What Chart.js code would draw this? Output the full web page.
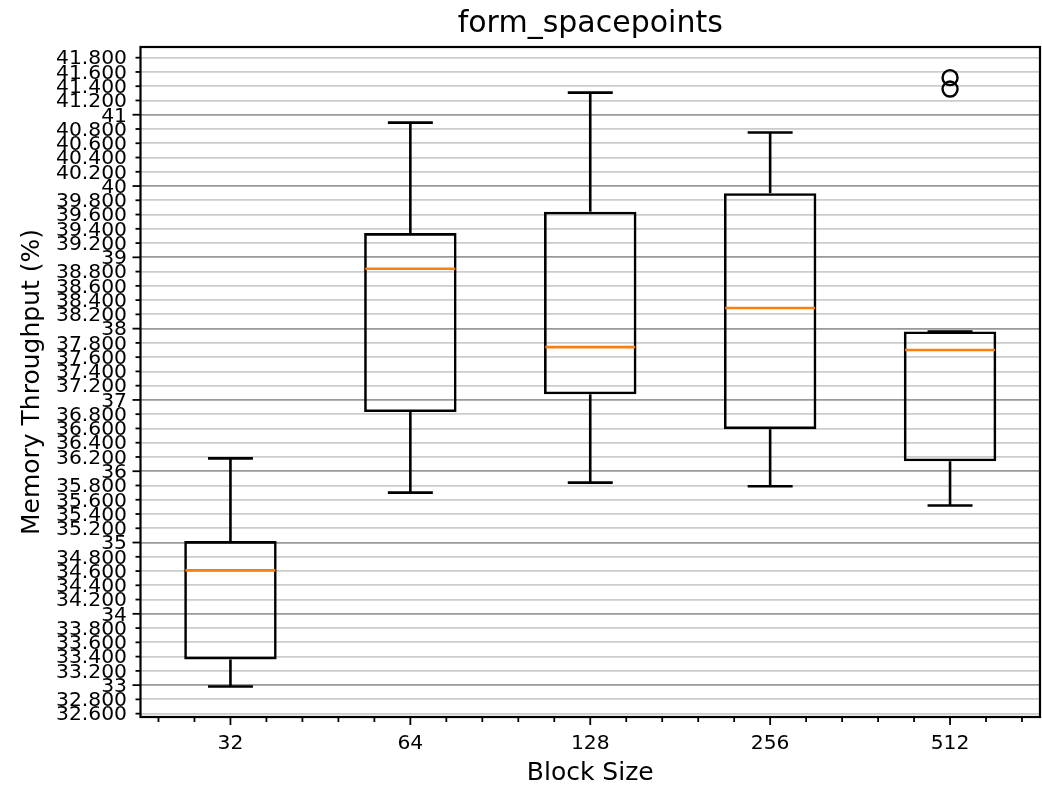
<!DOCTYPE html>
<html><head><meta charset="utf-8">
<script src="https://cdn.jsdelivr.net/npm/chart.js@4.4.1/dist/chart.umd.min.js"></script>
<style>html,body{margin:0;padding:0;background:#fff;} canvas{display:block;}</style>
</head><body>
<canvas id="c" width="1042" height="788"></canvas>
<script>
// ---- data ----
const blockSizes = ['32', '64', '128', '256', '512'];
const positions = [1, 2, 3, 4, 5];
const whiskerLow  = [32.98, 35.70, 35.84, 35.79, 35.52];
const q1          = [33.36, 36.83, 37.08, 36.59, 36.14];
const median      = [34.61, 38.84, 37.74, 38.29, 37.70];
const q3          = [35.02, 39.34, 39.64, 39.90, 37.96];
const whiskerHigh = [36.18, 40.89, 41.31, 40.75, 37.96];
const outlierPos  = [5, 5];
const outlierVal  = [41.52, 41.36];

// ---- ticks ----
const yTicks = [];
for (let v = 326; v <= 418; v += 2) yTicks.push(v / 10);
const xMinorTicks = [];
for (let v = 6; v <= 54; v += 2) if (v % 10 !== 0) xMinorTicks.push(v / 10);

const FONT = 'DejaVu Sans';
const BOX_HALF = 0.25, CAP_HALF = 0.125;
const LW = 2.6;
const isMajor = v => Math.abs(v - Math.round(v)) < 1e-6;

Chart.defaults.color = '#000';
Chart.defaults.font.family = FONT;

const partsPlugin = {
  id: 'boxParts',
  afterDatasetsDraw(chart) {
    const {ctx, scales: {x, y}} = chart;
    ctx.save();
    ctx.lineCap = 'butt';
    const line = (x1, y1, x2, y2) => { ctx.beginPath(); ctx.moveTo(x1, y1); ctx.lineTo(x2, y2); ctx.stroke(); };
    positions.forEach((p, i) => {
      const cx = x.getPixelForValue(p);
      ctx.strokeStyle = '#000'; ctx.lineWidth = LW;
      line(cx, y.getPixelForValue(q1[i]), cx, y.getPixelForValue(whiskerLow[i]));
      line(cx, y.getPixelForValue(q3[i]), cx, y.getPixelForValue(whiskerHigh[i]));
      const cl = x.getPixelForValue(p - CAP_HALF), cr = x.getPixelForValue(p + CAP_HALF);
      line(cl, y.getPixelForValue(whiskerLow[i]), cr, y.getPixelForValue(whiskerLow[i]));
      line(cl, y.getPixelForValue(whiskerHigh[i]), cr, y.getPixelForValue(whiskerHigh[i]));
      ctx.strokeStyle = '#ff7f0e';
      const bl = x.getPixelForValue(p - BOX_HALF), br = x.getPixelForValue(p + BOX_HALF);
      line(bl, y.getPixelForValue(median[i]), br, y.getPixelForValue(median[i]));
    });
    ctx.restore();
  },
  afterDraw(chart) {
    const {ctx, chartArea: a, scales: {x, y}} = chart;
    ctx.save();
    ctx.strokeStyle = '#000';
    ctx.lineWidth = 1.8;
    yTicks.forEach(v => {
      const py = y.getPixelForValue(v);
      const len = isMajor(v) ? 8 : 5;
      ctx.beginPath(); ctx.moveTo(a.left - len, py); ctx.lineTo(a.left, py); ctx.stroke();
    });
    positions.forEach(v => {
      const px = x.getPixelForValue(v);
      ctx.beginPath(); ctx.moveTo(px, a.bottom); ctx.lineTo(px, a.bottom + 8); ctx.stroke();
    });
    xMinorTicks.forEach(v => {
      const px = x.getPixelForValue(v);
      ctx.beginPath(); ctx.moveTo(px, a.bottom); ctx.lineTo(px, a.bottom + 5); ctx.stroke();
    });
    ctx.lineWidth = 2.2;
    ctx.strokeRect(a.left, a.top, a.right - a.left, a.bottom - a.top);
    ctx.restore();
  }
};

new Chart(document.getElementById('c'), {
  type: 'bar',
  data: {
    datasets: [
      {
        type: 'bar',
        data: positions.map((p, i) => ({x: p, y: [q1[i], q3[i]]})),
        backgroundColor: 'rgba(0,0,0,0)',
        borderColor: '#000',
        borderWidth: LW,
        borderSkipped: false,
        barPercentage: 0.514,
        categoryPercentage: 1
      },
      {
        type: 'scatter',
        data: outlierPos.map((p, i) => ({x: p, y: outlierVal[i]})),
        pointStyle: 'circle',
        pointRadius: 7.5,
        pointBorderWidth: 2.4,
        pointBorderColor: '#000',
        pointBackgroundColor: 'rgba(0,0,0,0)'
      }
    ]
  },
  options: {
    responsive: false,
    animation: false,
    layout: {autoPadding: false, padding: {left: 0, right: 2, top: 0, bottom: 0}},
    plugins: {
      legend: {display: false},
      tooltip: {enabled: false},
      title: {
        display: true, fullSize: false, text: 'form_spacepoints', color: '#000',
        font: {family: FONT, size: 30, weight: 'normal', lineHeight: 1.2},
        padding: {top: 6, bottom: 5}
      }
    },
    scales: {
      x: {
        type: 'linear', min: 0.5, max: 5.5, offset: false,
        grid: {display: false},
        border: {display: false},
        afterBuildTicks: s => { s.ticks = positions.map(v => ({value: v})); },
        afterFit: s => { s.height = 71; },
        ticks: {
          autoSkip: false, maxRotation: 0, padding: 7,
          font: {family: FONT, size: 20.3},
          callback: v => blockSizes[positions.indexOf(v)]
        },
        title: {display: true, text: 'Block Size', color: '#000',
          font: {family: FONT, size: 25, lineHeight: 1.2}, padding: {top: 0, bottom: 0}}
      },
      y: {
        type: 'linear', min: 32.553, max: 41.95, beginAtZero: false,
        grid: {
          drawTicks: false,
          color: c => (c.tick && isMajor(c.tick.value)) ? '#999999' : '#cccccc',
          lineWidth: 1.8
        },
        border: {display: false},
        afterBuildTicks: s => { s.ticks = yTicks.map(v => ({value: v})); },
        afterFit: s => { s.width = 140.5; },
        ticks: {
          autoSkip: false, padding: 13.5, labelOffset: 1.5,
          font: {family: FONT, size: 20.3},
          callback: v => { const r = Math.round(v * 10) / 10; return isMajor(r) ? String(Math.round(r)) : r.toFixed(3); }
        },
        title: {display: true, text: 'Memory Throughput (%)', color: '#000',
          font: {family: FONT, size: 25, lineHeight: 1.2}, padding: {top: 17, bottom: 0}}
      }
    }
  },
  plugins: [partsPlugin]
});
</script>
</body></html>
